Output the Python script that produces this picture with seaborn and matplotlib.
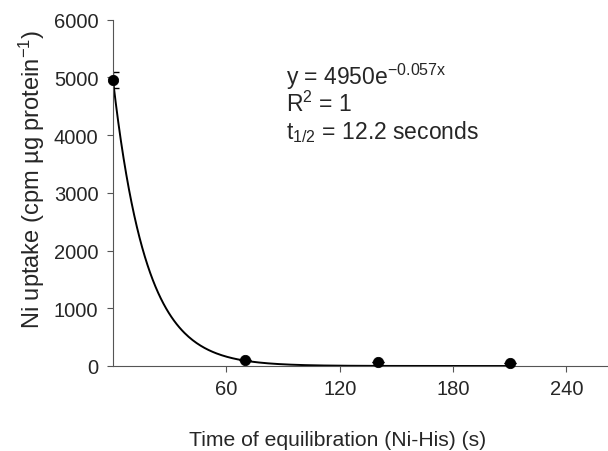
import numpy as np
import pandas as pd
import matplotlib
matplotlib.use("Agg")
import matplotlib.pyplot as plt
import seaborn as sns

# Data
time_s = [0, 70, 140, 210]
uptake = [4950, 100, 65, 55]
uptake_err = [140, 0, 0, 0]
fit_a = 4950
fit_k = 0.057
x_ticks = [60, 120, 180, 240]
y_ticks = [0, 1000, 2000, 3000, 4000, 5000, 6000]

sns.set_style("ticks")
plt.rcParams['font.family'] = ['Liberation Sans', 'DejaVu Sans']
plt.rcParams['mathtext.fontset'] = 'custom'
plt.rcParams['mathtext.rm'] = 'Liberation Sans'
plt.rcParams['mathtext.it'] = 'Liberation Sans'

fig = plt.figure(figsize=(6.08, 4.52), dpi=100)
ax_left = 113.0
ax_w = 608 - ax_left
ax = fig.add_axes([ax_left / 608, 1 - 367 / 452, ax_w / 608, (367 - 20.5) / 452])

tfit = np.linspace(0, max(time_s), 300)
fit_df = pd.DataFrame({"t": tfit, "y": fit_a * np.exp(-fit_k * tfit)})
sns.lineplot(data=fit_df, x="t", y="y", ax=ax, color="black", linewidth=1.4)

pts = pd.DataFrame({"t": time_s, "y": uptake})
ax.errorbar(time_s, uptake, yerr=uptake_err, fmt="none", ecolor="black",
            elinewidth=1, capsize=4, capthick=1)
sns.scatterplot(data=pts, x="t", y="y", ax=ax, color="black", s=55,
                edgecolor="black", zorder=5, clip_on=False)

ax.set_xlim(0, 262)
ax.set_ylim(0, 6000)
ax.set_xticks(x_ticks)
ax.set_yticks(y_ticks)
ax.tick_params(labelsize=14.5, length=4.5, color="#555555")
ax.tick_params(axis="x", pad=5)
ax.tick_params(axis="y", pad=6)
for s in ["left", "bottom"]:
    ax.spines[s].set_color("#555555")
ax.spines["right"].set_visible(False)
ax.spines["top"].set_visible(False)

# positions in axes fraction (axes width changed)
def fx(px):
    return (px - ax_left) / ax_w

ax.set_xlabel("Time of equilibration (Ni-His) (s)", fontsize=15.2)
ax.xaxis.set_label_coords(fx(337.5), -0.185)
ax.set_ylabel("Ni uptake (cpm µg protein$^{-1}$)", fontsize=17)
ax.yaxis.set_label_coords(fx(47), 0.54)

tx = fx(286)
ax.text(tx, 0.815, "y = 4950e$^{-0.057x}$", transform=ax.transAxes,
        fontsize=16.5, va="baseline")
ax.text(tx, 0.737, "R$^2$ = 1", transform=ax.transAxes, fontsize=16.5,
        va="baseline")
ax.text(tx, 0.659, "t$_{1/2}$ = 12.2 seconds", transform=ax.transAxes,
        fontsize=16.5, va="baseline")

fig.savefig("out.png", dpi=100)
